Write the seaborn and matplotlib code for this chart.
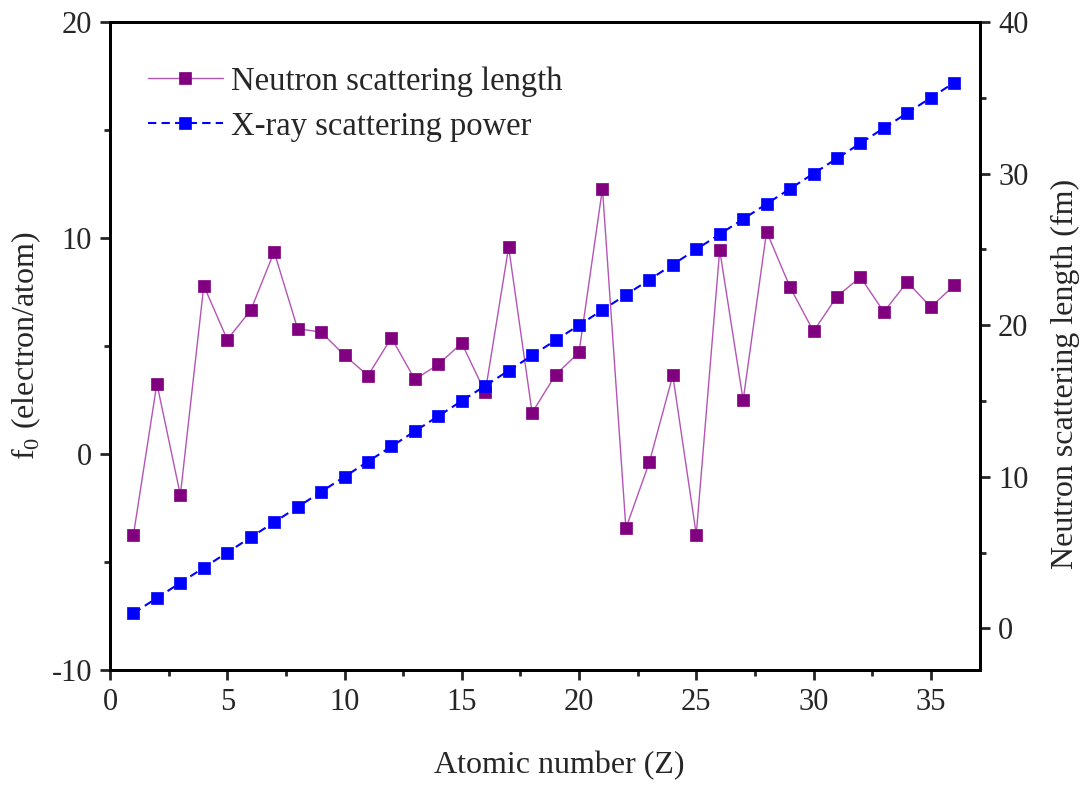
import matplotlib
matplotlib.use("Agg")
import matplotlib.pyplot as plt
import seaborn as sns
import pandas as pd
from matplotlib.ticker import MultipleLocator

sns.set_style("ticks")
plt.rcParams['font.family'] = ['Liberation Serif', 'DejaVu Serif']
plt.rcParams['mathtext.fontset'] = 'custom'
plt.rcParams['mathtext.rm'] = 'Liberation Serif'
plt.rcParams['axes.unicode_minus'] = False

Z = list(range(1, 37))
neutron_length = [-3.74, 3.26, -1.90, 7.79, 5.30, 6.65, 9.36, 5.80, 5.65, 4.57,
                  3.63, 5.38, 3.45, 4.15, 5.13, 2.85, 9.58, 1.91, 3.67, 4.70,
                  12.29, -3.44, -0.38, 3.64, -3.73, 9.45, 2.49, 10.30, 7.72, 5.68,
                  7.29, 8.19, 6.58, 7.97, 6.80, 7.81]
xray_power = [float(z) for z in Z]

df = pd.DataFrame({"Z": Z, "neutron": neutron_length, "xray": xray_power})

fig = plt.figure(figsize=(10.89, 7.88), dpi=100)
ax = fig.add_axes([110/1089, 1 - 670/788, (980-110)/1089, (670-22)/788])
ax2 = ax.twinx()

sns.lineplot(data=df, x="Z", y="neutron", ax=ax, color="#b455b4", linewidth=1.0,
             marker="s", markersize=9, markerfacecolor="#800080",
             markeredgecolor="#800080", markeredgewidth=0.5,
             label="Neutron scattering length", legend=False)
sns.lineplot(data=df, x="Z", y="xray", ax=ax2, color="#0000ff", linewidth=1.5,
             linestyle=(0, (4, 2.5)), marker="s", markersize=9,
             markerfacecolor="#0000ff", markeredgecolor="#0000ff",
             markeredgewidth=0.5, label="X-ray scattering power", legend=False)

ax.set_xlim(0, 37.1)
ax.set_ylim(-10, 20)
ax2.set_ylim(-2.75, 40)

ax.xaxis.set_major_locator(MultipleLocator(5))
ax.xaxis.set_minor_locator(MultipleLocator(2.5))
ax.yaxis.set_major_locator(MultipleLocator(10))
ax.yaxis.set_minor_locator(MultipleLocator(5))
ax2.yaxis.set_major_locator(MultipleLocator(10))
ax2.yaxis.set_minor_locator(MultipleLocator(5))

for a in (ax, ax2):
    for s in a.spines.values():
        s.set_linewidth(2.0)
        s.set_color("black")
    a.tick_params(which="major", direction="out", length=7, width=2, labelsize=22, pad=6)
    a.tick_params(which="minor", direction="out", length=4, width=2)

ax.tick_params(axis="x", top=False)
ax.tick_params(axis="y", right=False, which="both")

ax.set_xlabel("Atomic number (Z)", fontsize=23, labelpad=22)
ax.set_ylabel(r"f$_0$ (electron/atom)", fontsize=23, labelpad=6)
ax2.set_ylabel("Neutron scattering length (fm)", fontsize=23, labelpad=20)
ax.xaxis.set_label_coords(0.516, -0.125)
ax2.yaxis.set_label_coords(1.081, 0.457)

h1, l1 = ax.get_legend_handles_labels()
h2, l2 = ax2.get_legend_handles_labels()
ax.legend(h1 + h2, l1 + l2, loc="upper left", bbox_to_anchor=(0.0095, 0.977),
          frameon=False, fontsize=23.5, handlelength=2.3, handletextpad=0.25,
          labelspacing=0.44)

fig.savefig("out.png", dpi=100)
